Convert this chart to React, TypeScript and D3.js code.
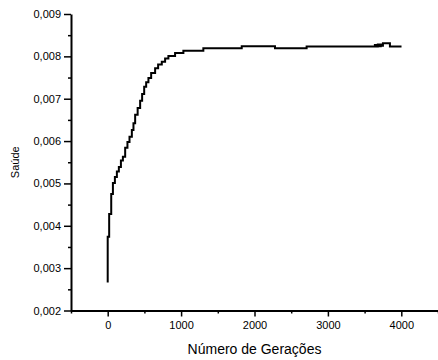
import { useEffect, useRef } from 'react'
import * as d3 from 'd3'

// generation at which each step starts, and the fitness (saúde) held from there
const generations = [
  0, 0, 20, 48, 71, 98, 125, 152, 180, 207, 238, 269, 297, 329, 351, 374, 408, 442,
  469, 497, 524, 555, 592, 646, 687, 737, 782, 827, 918, 1031, 1303, 1826, 2279,
  2710, 3640, 3660, 3680, 3700, 3720, 3740, 3750, 3845, 4003,
]
const saude = [
  0.00266, 0.00374, 0.00428, 0.00475, 0.00501, 0.00515, 0.00528, 0.00539, 0.00554,
  0.00563, 0.00584, 0.00598, 0.0061, 0.00626, 0.00642, 0.00662, 0.00678, 0.00695,
  0.00711, 0.00728, 0.00739, 0.00749, 0.00761, 0.00772, 0.00781, 0.00787, 0.00795,
  0.00801, 0.00808, 0.00813, 0.00819, 0.00824, 0.00819, 0.00823, 0.00827, 0.00823,
  0.00828, 0.00824, 0.00828, 0.00825, 0.00831, 0.00823, 0.00823,
]
const xTicks = [0, 1000, 2000, 3000, 4000]
const xMinor = [-500, 500, 1500, 2500, 3500, 4500]
const yTicks = [0.002, 0.003, 0.004, 0.005, 0.006, 0.007, 0.008, 0.009]
const yMinor = [0.0025, 0.0035, 0.0045, 0.0055, 0.0065, 0.0075, 0.0085]

export default function App() {
  const svgRef = useRef<SVGSVGElement>(null)

  useEffect(() => {
    const W = 438
    const H = 360
    const margin = { left: 71, right: 0, top: 14, bottom: 49.5 }
    const font = 'Liberation Sans, Arial, sans-serif'

    const x = d3.scaleLinear().domain([-500, 4500]).range([margin.left, W - margin.right])
    const y = d3.scaleLinear().domain([0.002, 0.009]).range([H - margin.bottom, margin.top])

    const svg = d3.select(svgRef.current)
    svg.selectAll('*').remove()
    svg.attr('width', W).attr('height', H)

    const fmt = (d: number) => d.toFixed(3).replace('.', ',')

    // minor ticks first
    svg.append('g')
      .attr('transform', `translate(0,${y(0.002)})`)
      .call(d3.axisBottom(x).tickValues(xMinor).tickSize(3).tickFormat(() => ''))
      .call((ax) => ax.select('.domain').remove())
      .call((ax) => ax.selectAll('.tick line').attr('stroke', '#000').attr('stroke-width', 1.5))
    svg.append('g')
      .attr('transform', `translate(${margin.left},0)`)
      .call(d3.axisLeft(y).tickValues(yMinor).tickSize(3).tickFormat(() => ''))
      .call((ax) => ax.select('.domain').remove())
      .call((ax) => ax.selectAll('.tick line').attr('stroke', '#000').attr('stroke-width', 1.5))

    svg.append('g')
      .attr('transform', `translate(0,${y(0.002)})`)
      .call(d3.axisBottom(x).tickValues(xTicks).tickSize(6).tickPadding(5).tickSizeOuter(0).tickFormat((d) => String(d)))
      .call((ax) => ax.select('.domain').attr('stroke', '#000').attr('stroke-width', 2))
      .call((ax) => ax.selectAll('.tick line').attr('stroke', '#000').attr('stroke-width', 1.5))
      .call((ax) => ax.selectAll('text').attr('fill', '#000').attr('font-size', 11).attr('font-family', font))

    svg.append('g')
      .attr('transform', `translate(${margin.left},0)`)
      .call(d3.axisLeft(y).tickValues(yTicks).tickSize(7).tickPadding(3).tickSizeOuter(0).tickFormat((d) => fmt(+d)))
      .call((ax) => ax.select('.domain').attr('stroke', '#000').attr('stroke-width', 2))
      .call((ax) => ax.selectAll('.tick line').attr('stroke', '#000').attr('stroke-width', 1.5))
      .call((ax) => ax.selectAll('text').attr('fill', '#000').attr('font-size', 11).attr('font-family', font))

    const pts = generations.map((g, i) => [g, saude[i]] as [number, number])
    const line = d3.line<[number, number]>()
      .x((d) => x(d[0])).y((d) => y(d[1]))
      .curve(d3.curveStepAfter)

    svg.append('path')
      .datum(pts)
      .attr('fill', 'none').attr('stroke', '#000').attr('stroke-width', 2)
      .attr('d', line)

    svg.append('text')
      .attr('x', (margin.left + W) / 2).attr('y', 354)
      .attr('text-anchor', 'middle')
      .attr('font-size', 14).attr('font-family', font)
      .text('Número de Gerações')

    svg.append('text')
      .attr('transform', `translate(19,${(y(0.002) + y(0.009)) / 2}) rotate(-90)`)
      .attr('text-anchor', 'middle')
      .attr('font-size', 11).attr('font-family', font)
      .text('Saúde')
  }, [])

  return (
    <div style={{ position: 'absolute', left: 0, top: 0 }}>
      <svg ref={svgRef} style={{ display: 'block', background: '#fff' }} />
    </div>
  )
}
